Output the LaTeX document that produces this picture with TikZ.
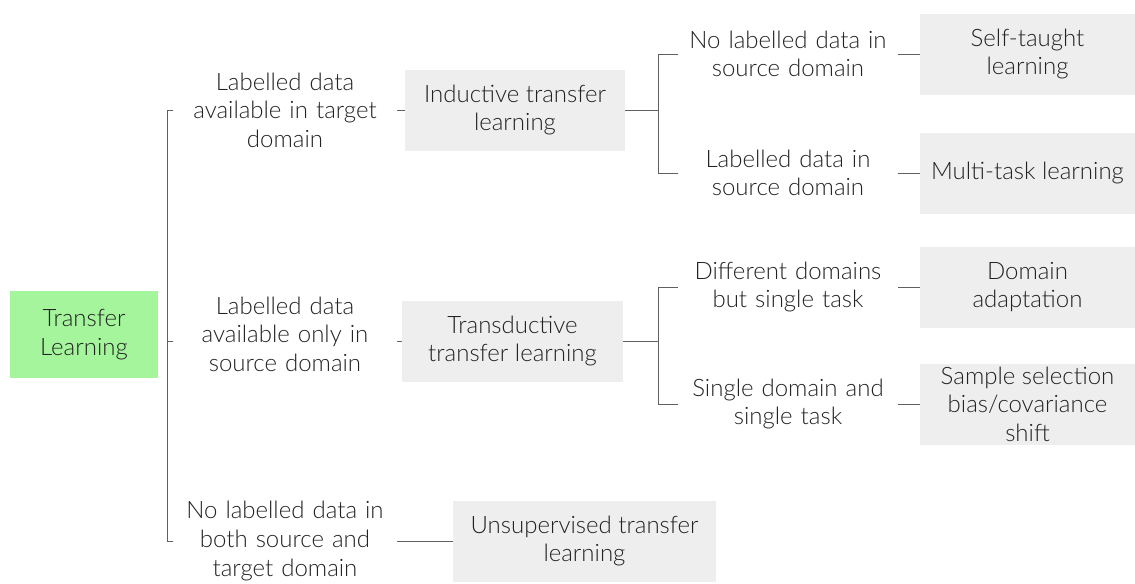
\documentclass[tikz,border=0pt]{standalone}
\usepackage{fontspec}
\setmainfont{Lato}[UprightFont={* Light}]
\usetikzlibrary{calc}

\definecolor{boxgrey}{HTML}{EEEEEE}
\definecolor{rootgreen}{HTML}{A4F59C}
\definecolor{linegrey}{HTML}{606060}
\definecolor{txtcol}{HTML}{222222}

\begin{document}
\begin{tikzpicture}[x=0.75pt, y=-0.75pt,
    every node/.style={font=\fontsize{18}{21.4}\selectfont, text=txtcol, align=center, inner sep=0pt},
    rootbox/.style={fill=rootgreen, minimum width=111pt, minimum height=65.25pt},
    catbox/.style={fill=boxgrey, minimum width=#1, minimum height=60.75pt},
    condA/.style={text width=168pt},
    condB/.style={text width=165pt},
    link/.style={draw=linegrey, line width=0.75pt}]

      \useasboundingbox (0,0) rectangle (1135,583);

      % root
      \node[rootbox] (tl) at (84,334.5) {Transfer\\Learning};

      % first level conditions
      \node[condA] (c1) at (285,110) {Labelled data\\available in target\\domain};
      \node[condA] (c2) at (285,334) {Labelled data\\available only in\\source domain};
      \node[condA] (c3) at (285,541) {No labelled data in\\both source and\\target domain};

      % transfer settings
      \node[catbox=165pt] (ind) at (515,110) {Inductive transfer\\learning};
      \node[catbox=165.75pt] (trans) at (512.5,341) {Transductive\\transfer learning};
      \node[catbox=197.25pt] (uns) at (584.5,541) {Unsupervised transfer\\learning};

      % second level conditions
      \node[condB] (s1) at (788,54) {No labelled data in\\source domain};
      \node[condB] (s2) at (788,173) {Labelled data in\\source domain};
      \node[condB] (s3) at (788,287) {Different domains\\but single task};
      \node[condB] (s4) at (788,404) {Single domain and\\single task};

      % leaves
      \node[catbox=161.25pt] (self) at (1027.5,54) {Self-taught\\learning};
      \node[catbox=161.25pt] (multi) at (1027.5,173) {Multi-task learning};
      \node[catbox=161.25pt] (dom) at (1027.5,287) {Domain\\adaptation};
      \node[catbox=161.25pt] (samp) at (1027.5,404) {Sample selection\\bias/covariance\\shift};

      % bracket next to the root
      \coordinate (b0) at (167,0);
      \draw[link] (c1.west) -- (b0 |- c1.west) -- (b0 |- c3.west) -- (c3.west);
      \draw[link] (b0 |- trans.west) -- (c2.west |- trans.west);

      % conditions to settings
      \draw[link] (c1.east) -- (ind.west);
      \draw[link] (c2.east |- trans.west) -- (trans.west);
      \draw[link] (c3.east) -- (uns.west);

      % brackets after the settings
      \draw[link] (ind.east) -- ++(33,0) coordinate (b1);
      \draw[link] (s1.west) -| (b1) |- (s2.west);
      \draw[link] (trans.east) -- ++(35,0) coordinate (b2);
      \draw[link] (s3.west) -| (b2) |- (s4.west);

      \foreach \s/\t in {s1/self, s2/multi, s3/dom, s4/samp}{
        \draw[link] (\s.east) -- (\t.west);
      }

    \end{tikzpicture}
\end{document}
